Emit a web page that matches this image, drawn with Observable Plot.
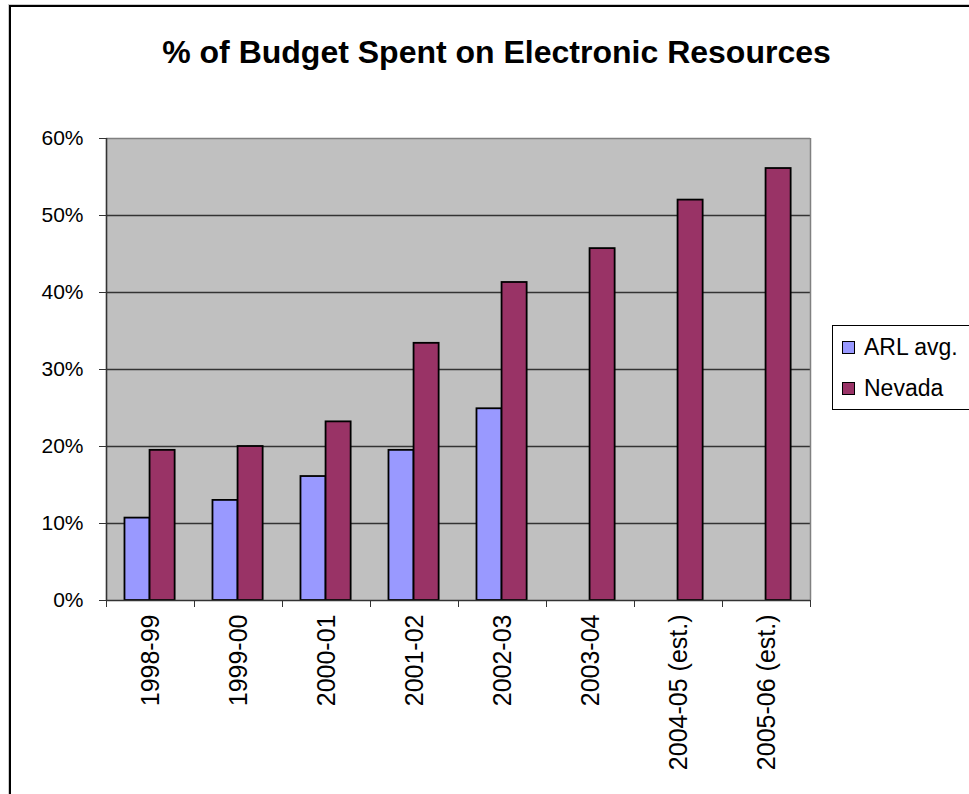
<!DOCTYPE html>
<html>
<head>
<meta charset="utf-8">
<script src="https://cdn.jsdelivr.net/npm/d3@7"></script>
<script src="https://cdn.jsdelivr.net/npm/@observablehq/plot@0.6"></script>
<style>
  body { margin: 0; background: #fff; font-family: "Liberation Sans", Arial, sans-serif; }
  #wrap { position: relative; width: 969px; height: 794px; overflow: hidden; background: #fff; }
  #border { position: absolute; left: 9px; top: 5px; width: 1000px; height: 900px;
            border-left: 2px solid #000; border-top: 2px solid #000;
            box-shadow: -1px -1px 0 #ccc; }
  #chart { position: absolute; left: 0; top: 0; }
  #title { position: absolute; left: 0; top: 33px; width: 993px; text-align: center;
           font-size: 32px; font-weight: bold; color: #000; line-height: 38px; }
  #legend { position: absolute; left: 832px; top: 325px; width: 200px; height: 83px;
            border: 1px solid #000; background: #fff; }
  .item { position: absolute; left: 9px; display: flex; align-items: center; font-size: 23px; color: #000; }
  .sw { width: 11px; height: 11px; border: 1.5px solid #000; margin-right: 9px; }
</style>
</head>
<body>
<div id="wrap">
  <div id="border"></div>
  <div id="chart"></div>
  <div id="title">% of Budget Spent on Electronic Resources</div>
  <div id="legend"></div>
</div>
<script>
const categories = ["1998-99", "1999-00", "2000-01", "2001-02", "2002-03", "2003-04", "2004-05 (est.)", "2005-06 (est.)"];
const seriesNames = ["ARL avg.", "Nevada"];
const arlValues = [0.107, 0.130, 0.161, 0.195, 0.249, null, null, null];
const nevadaValues = [0.195, 0.200, 0.232, 0.334, 0.413, 0.457, 0.520, 0.561];
const yTicks = [0, 0.1, 0.2, 0.3, 0.4, 0.5, 0.6];
const seriesColors = ["#9999FF", "#993366"];

const rows = [];
categories.forEach((c, i) => {
  [arlValues, nevadaValues].forEach((vals, s) => {
    if (vals[i] != null) rows.push({category: c, i, s, series: seriesNames[s], value: vals[i]});
  });
});

const groupStart = 0.21, barW = 0.285;

const chart = Plot.plot({
  width: 969,
  height: 794,
  marginLeft: 106,
  marginRight: 159,
  marginTop: 138,
  marginBottom: 194,
  style: { fontFamily: "'Liberation Sans', Arial, sans-serif", color: "#000", background: "transparent" },
  x: { type: "linear", domain: [0, categories.length] },
  y: { domain: [0, 0.6] },
  color: { domain: seriesNames, range: seriesColors },
  marks: [
    Plot.frame({ fill: "#C0C0C0", stroke: null }),
    Plot.ruleY(yTicks.filter(v => v > 0 && v < 0.6), { stroke: "#333", strokeWidth: 1.3 }),
    Plot.ruleY([0.6], { stroke: "#808080", strokeWidth: 1.5 }),
    Plot.ruleX([categories.length], { stroke: "#808080", strokeWidth: 1.5 }),
    Plot.rect(rows, {
      x1: d => d.i + groupStart + d.s * barW,
      x2: d => d.i + groupStart + (d.s + 1) * barW,
      y1: 0,
      y2: "value",
      fill: "series",
      stroke: "#000",
      strokeWidth: 1.8
    }),
    Plot.ruleX([0], { stroke: "#333", strokeWidth: 1.6 }),
    Plot.ruleY([0], { stroke: "#333", strokeWidth: 1.6 }),
    Plot.axisY({ ticks: yTicks, tickFormat: d3.format(".0%"), tickSize: 7, tickPadding: 16, fontSize: 21, stroke: "#333", label: null }),
    Plot.axisX({ ticks: d3.range(0, categories.length + 1), tickFormat: () => "", tickSize: 7, stroke: "#333", label: null }),
    Plot.axisX({ ticks: categories.map((c, i) => i + 0.5), tickFormat: v => categories[Math.floor(v)],
                 tickSize: 0, tickPadding: 14, tickRotate: -90, fontSize: 25, label: null })
  ]
});
document.getElementById("chart").appendChild(chart);

const legend = document.getElementById("legend");
seriesNames.forEach((name, k) => {
  const item = document.createElement("div");
  item.className = "item";
  item.style.top = (k === 0 ? 8 : 49) + "px";
  const sw = document.createElement("div");
  sw.className = "sw";
  sw.style.background = seriesColors[k];
  const label = document.createElement("span");
  label.textContent = name;
  item.appendChild(sw);
  item.appendChild(label);
  legend.appendChild(item);
});
</script>
</body>
</html>
